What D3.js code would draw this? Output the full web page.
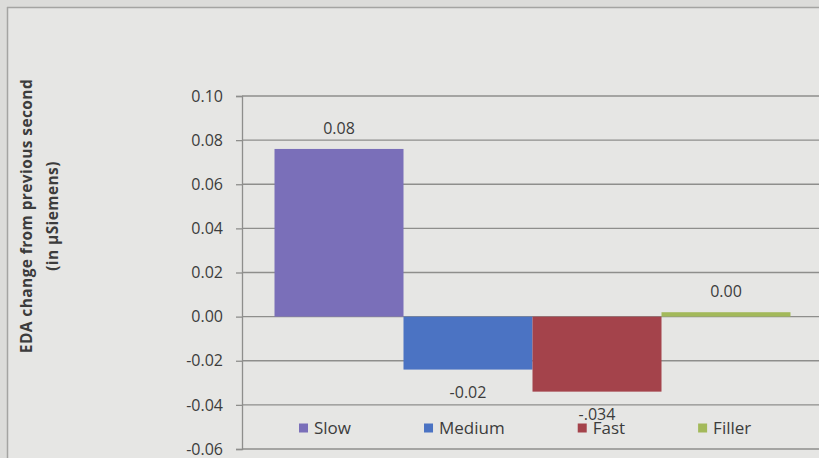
<!DOCTYPE html>
<html>
<head>
<meta charset="utf-8">
<script src="https://cdn.jsdelivr.net/npm/d3@7"></script>
<style>
  html, body { margin: 0; padding: 0; background: #dcdcda; }
  svg { display: block; }
  text { font-family: "Open Sans", "Noto Sans", sans-serif; fill: #3c3c3c; }
</style>
</head>
<body>
<svg id="chart" width="819" height="458"></svg>
<script>
// Series of the single clustered group
const seriesNames = ["Slow", "Medium", "Fast", "Filler"];
const seriesValues = [0.076, -0.024, -0.034, 0.002];
const valueLabels = ["0.08", "-0.02", "-.034", "0.00"];
const seriesColors = ["#7a6fb9", "#4b73c3", "#a4434b", "#a3b95a"];
const yTicks = [-0.06, -0.04, -0.02, 0.00, 0.02, 0.04, 0.06, 0.08, 0.10];
const yTitle = ["EDA change from previous second", "(in µSiemens)"];

const svg = d3.select("#chart");
const W = 819, H = 458;

// chart sheet
svg.append("rect").attr("x", 7).attr("y", 7).attr("width", W).attr("height", H)
  .attr("fill", "#e6e6e4");
svg.append("line").attr("x1", 7).attr("x2", W).attr("y1", 7.5).attr("y2", 7.5)
  .attr("stroke", "#a4a4a2").attr("stroke-width", 1.5);
svg.append("line").attr("x1", 7.5).attr("x2", 7.5).attr("y1", 7).attr("y2", H)
  .attr("stroke", "#a4a4a2").attr("stroke-width", 1.5);

const plot = { left: 242, right: 823, top: 96, bottom: 449 };

const y = d3.scaleLinear().domain([-0.06, 0.10]).range([plot.bottom, plot.top]);
const x = d3.scaleBand().domain(seriesNames).range([plot.left, plot.right])
  .paddingInner(0).paddingOuter(0.252);

// horizontal gridlines
svg.append("g").selectAll("line").data(yTicks).join("line")
  .attr("x1", plot.left).attr("x2", W)
  .attr("y1", d => y(d)).attr("y2", d => y(d))
  .attr("stroke", "#8e8e8c").attr("stroke-width", 1.3);

// value axis
const axis = svg.append("g").attr("transform", `translate(${plot.left},0)`)
  .call(d3.axisLeft(y).tickValues(yTicks).tickFormat(d3.format(".2f")).tickSize(6).tickPadding(13));
axis.select(".domain").attr("stroke", "#8e8e8c").attr("stroke-width", 1.3);
axis.selectAll(".tick line").attr("stroke", "#8e8e8c").attr("stroke-width", 1.3);
axis.selectAll(".tick text").style("font-size", "16px").attr("fill", "#3c3c3c")
  .text(d => d3.format(".2f")(d).replace("−", "-"));

// bars
const rows = seriesNames.map((n, i) => ({ name: n, value: seriesValues[i], label: valueLabels[i], color: seriesColors[i] }));
svg.append("g").selectAll("rect").data(rows).join("rect")
  .attr("x", d => x(d.name))
  .attr("width", x.bandwidth())
  .attr("y", d => y(Math.max(0, d.value)))
  .attr("height", d => Math.abs(y(d.value) - y(0)))
  .attr("fill", d => d.color);

// data labels
svg.append("g").selectAll("text").data(rows).join("text")
  .attr("x", d => x(d.name) + x.bandwidth() / 2)
  .attr("y", d => d.value >= 0 ? y(d.value) - 15 : y(d.value) + 28)
  .attr("text-anchor", "middle")
  .style("font-size", "16px")
  .text(d => d.label);

// axis title
const title = svg.append("text")
  .attr("transform", "translate(0,216) rotate(-90)")
  .attr("text-anchor", "middle")
  .style("font-size", "15.5px").style("font-weight", "bold")
  .style("letter-spacing", "0.4px").attr("fill", "#333");
title.append("tspan").attr("x", 0).attr("y", 32).text(yTitle[0]);
title.append("tspan").attr("x", 0).attr("y", 58).text(yTitle[1]);

// legend
const legend = svg.append("g").attr("transform", "translate(299,428)");
let lx = 0;
rows.forEach(d => {
  const g = legend.append("g").attr("transform", `translate(${lx},0)`);
  g.append("rect").attr("x", 0).attr("y", -4.5).attr("width", 9).attr("height", 9).attr("fill", d.color);
  const t = g.append("text").attr("x", 15).attr("y", 6).style("font-size", "17px").text(d.name);
  lx += 15 + t.node().getComputedTextLength() + 73;
});
</script>
</body>
</html>
